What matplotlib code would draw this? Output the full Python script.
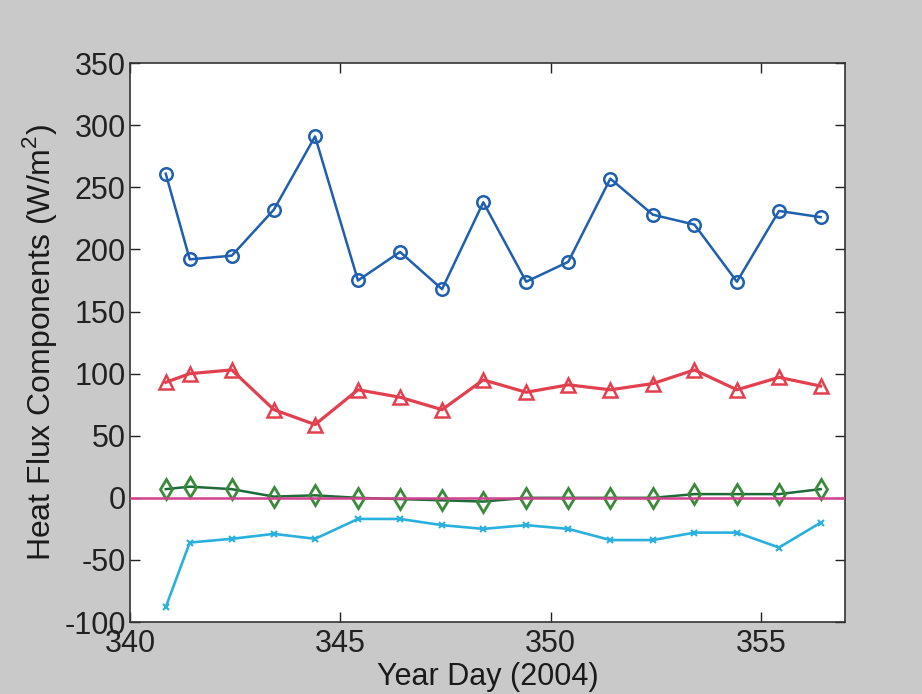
import matplotlib.pyplot as plt
import numpy as np

plt.rcParams['font.family'] = ['Liberation Sans', 'DejaVu Sans']
plt.rcParams['mathtext.fontset'] = 'custom'
plt.rcParams['mathtext.rm'] = 'Liberation Sans'
plt.rcParams['axes.unicode_minus'] = False

# year day of each daily estimate
day = [340.85, 341.42, 342.42, 343.42, 344.4, 345.42, 346.42, 347.42, 348.4,
       349.42, 350.42, 351.42, 352.43, 353.42, 354.43, 355.43, 356.42]

# heat flux components (W/m^2)
shortwave = [261, 192, 195, 232, 291, 175, 198, 168, 238,
             174, 190, 257, 228, 220, 174, 231, 226]
latent = [93, 100, 103, 71, 59, 87, 81, 71, 95,
          85, 91, 87, 92, 103, 87, 97, 90]
sensible = [7, 9, 7, 1, 2, 0, -1, -2, -3,
            0, 0, 0, 0, 3, 3, 3, 7]
longwave = [-88, -36, -33, -29, -33, -17, -17, -22, -25,
            -22, -25, -34, -34, -28, -28, -40, -20]

fig = plt.figure(figsize=(9.22, 6.94), dpi=100, facecolor='#c9c9c9')
ax = fig.add_axes([0.141, 0.1037, 0.7755, 0.8053])

ax.plot(day, shortwave, '-o', color='#1f5fb0', lw=1.8, ms=9,
        mfc='none', mec='#1f5fb0', mew=1.8)
ax.plot(day, latent, '-^', color='#e2404f', lw=2.3, ms=10,
        mfc='none', mec='#e2404f', mew=1.8)
ax.plot(day, sensible, '-d', color='#1e6b3a', lw=1.8, ms=10,
        mfc='none', mec='#3a8a3a', mew=2.0)
ax.plot(day, longwave, '-x', color='#2ab0de', lw=1.9, ms=5,
        mec='#2ab0de', mew=1.5)
ax.axhline(0, color='#d2408e', lw=1.8, zorder=5)

ax.set_xlim(340, 357)
ax.set_ylim(-100, 350)
ax.set_xticks([340, 345, 350, 355])
ax.set_yticks(np.arange(-100, 351, 50))
ax.tick_params(direction='in', top=True, right=True, length=7, width=1,
               labelsize=22, colors='#222222', pad=3)
ax.tick_params(axis='x', pad=5)
for s in ax.spines.values():
    s.set_color('#333333')
    s.set_linewidth(1.2)

ax.set_xlabel('Year Day (2004)', fontsize=22, color='#1a1a1a', labelpad=2)
ax.set_ylabel('Heat Flux Components (W/m$^2$)', fontsize=23,
              color='#1a1a1a', labelpad=4)

fig.savefig('out.png', dpi=100, facecolor=fig.get_facecolor())
